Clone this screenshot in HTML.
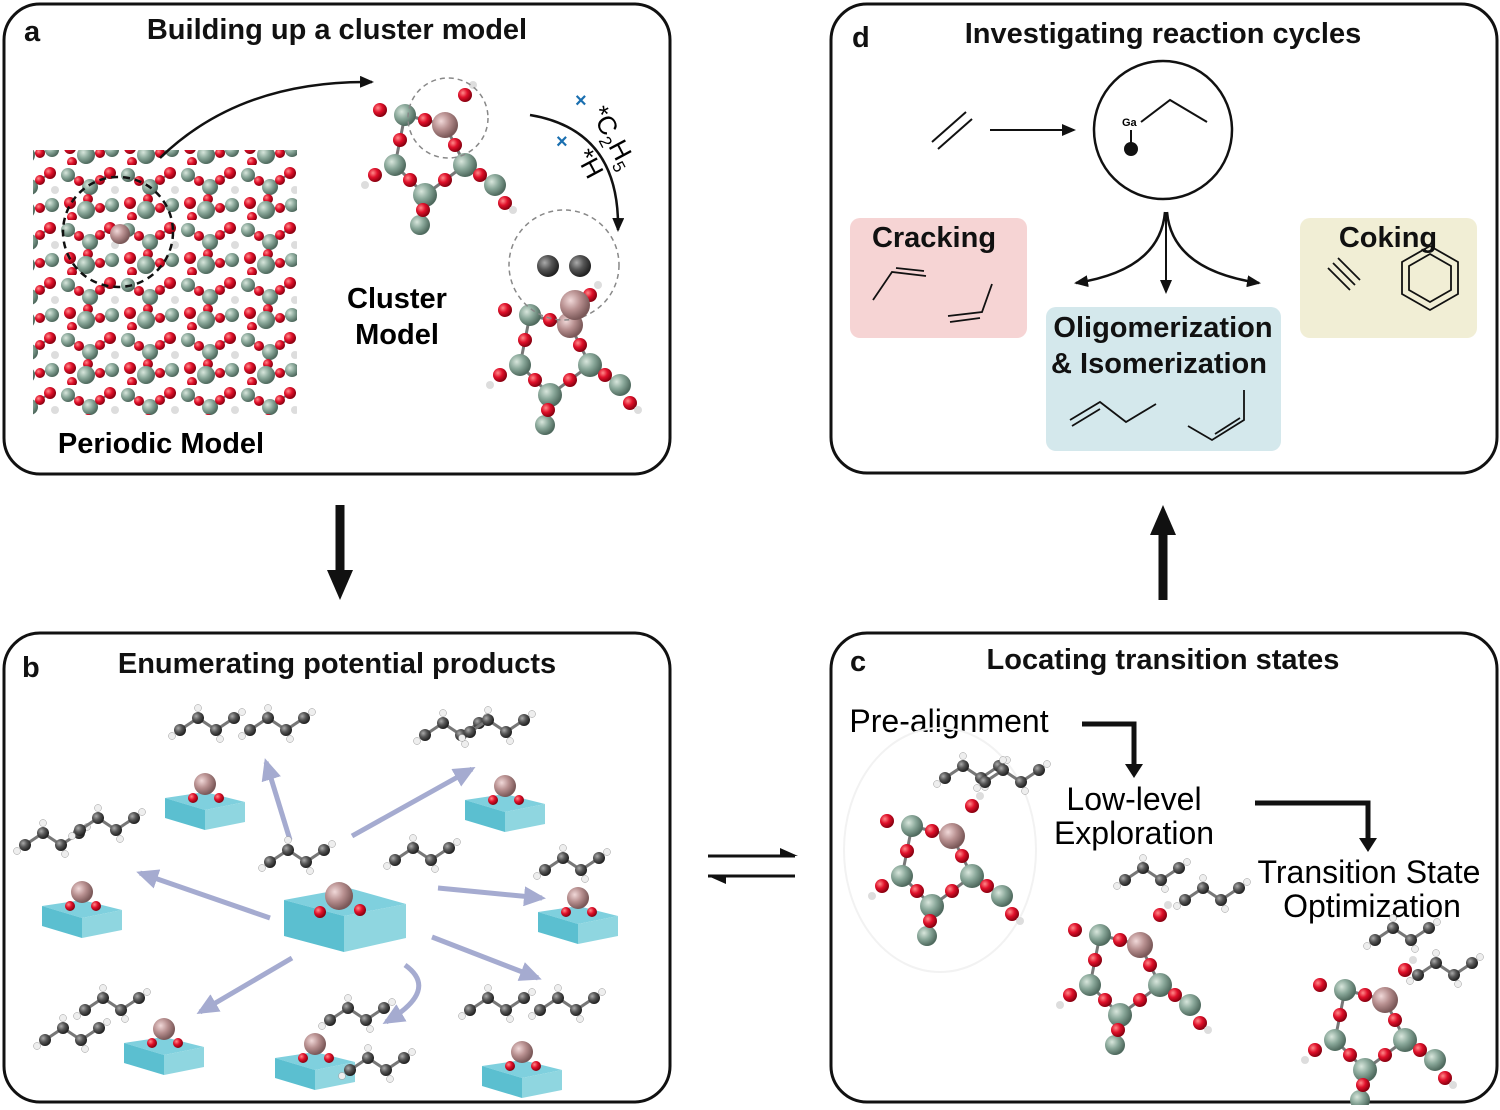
<!DOCTYPE html>
<html><head><meta charset="utf-8"><style>
html,body{margin:0;padding:0;background:#fff;}
body{width:1500px;height:1105px;overflow:hidden;font-family:"Liberation Sans",Arial,sans-serif;}
</style></head><body>
<svg width="1500" height="1105" viewBox="0 0 1500 1105" xmlns="http://www.w3.org/2000/svg" font-family="Liberation Sans, Arial, sans-serif">
<defs>
<radialGradient id="gr" cx="35%" cy="35%" r="65%"><stop offset="0" stop-color="#ff8a8a"/><stop offset="0.5" stop-color="#e0102a"/><stop offset="1" stop-color="#8a0010"/></radialGradient>
<radialGradient id="gg" cx="35%" cy="35%" r="65%"><stop offset="0" stop-color="#d8e6dc"/><stop offset="0.5" stop-color="#8aa89a"/><stop offset="1" stop-color="#4f6a5e"/></radialGradient>
<radialGradient id="gp" cx="35%" cy="35%" r="65%"><stop offset="0" stop-color="#f0d8d8"/><stop offset="0.5" stop-color="#b89090"/><stop offset="1" stop-color="#7a5858"/></radialGradient>
<radialGradient id="gk" cx="35%" cy="35%" r="65%"><stop offset="0" stop-color="#aaa"/><stop offset="0.5" stop-color="#555"/><stop offset="1" stop-color="#222"/></radialGradient>
<pattern id="zeo" width="60" height="55" patternUnits="userSpaceOnUse">
<g stroke="#777" stroke-width="2"><line x1="8" y1="10" x2="30" y2="22"/><line x1="30" y1="22" x2="50" y2="8"/><line x1="30" y1="22" x2="26" y2="45"/><line x1="26" y1="45" x2="52" y2="40"/></g>
<circle cx="8" cy="10" r="7" fill="url(#gg)"/><circle cx="30" cy="22" r="8" fill="url(#gg)"/><circle cx="50" cy="8" r="6" fill="url(#gr)"/>
<circle cx="19" cy="16" r="5" fill="url(#gr)"/><circle cx="40" cy="15" r="5" fill="url(#gr)"/><circle cx="28" cy="34" r="5" fill="url(#gr)"/>
<circle cx="26" cy="45" r="9" fill="url(#gg)"/><circle cx="52" cy="40" r="7" fill="url(#gg)"/><circle cx="40" cy="43" r="5" fill="url(#gr)"/>
<circle cx="10" cy="38" r="6" fill="url(#gr)"/><circle cx="55" cy="25" r="4" fill="#ddd"/><circle cx="12" cy="52" r="5" fill="url(#gr)"/>
</pattern>
<marker id="ah" markerUnits="userSpaceOnUse" markerWidth="14" markerHeight="12" refX="12" refY="6" orient="auto"><path d="M0,0 L14,6 L0,12 z" fill="#111"/></marker>
<marker id="ahb" markerUnits="userSpaceOnUse" markerWidth="22" markerHeight="20" refX="18" refY="10" orient="auto"><path d="M0,0 L22,10 L0,20 z" fill="#a5abd0"/></marker>
<g id="clus">
<g stroke="#777" stroke-width="3"><line x1="0" y1="0" x2="40" y2="10"/><line x1="40" y1="10" x2="60" y2="50"/><line x1="0" y1="0" x2="-10" y2="50"/><line x1="-10" y1="50" x2="20" y2="80"/><line x1="20" y1="80" x2="60" y2="50"/><line x1="60" y1="50" x2="90" y2="70"/><line x1="20" y1="80" x2="15" y2="110"/></g>
<circle cx="0" cy="0" r="11" fill="url(#gg)"/><circle cx="40" cy="10" r="13" fill="url(#gp)"/><circle cx="60" cy="50" r="12" fill="url(#gg)"/>
<circle cx="-10" cy="50" r="11" fill="url(#gg)"/><circle cx="20" cy="80" r="12" fill="url(#gg)"/><circle cx="90" cy="70" r="11" fill="url(#gg)"/><circle cx="15" cy="110" r="10" fill="url(#gg)"/>
<circle cx="20" cy="5" r="7" fill="url(#gr)"/><circle cx="50" cy="30" r="7" fill="url(#gr)"/><circle cx="-5" cy="25" r="7" fill="url(#gr)"/>
<circle cx="5" cy="65" r="7" fill="url(#gr)"/><circle cx="40" cy="65" r="7" fill="url(#gr)"/><circle cx="75" cy="60" r="7" fill="url(#gr)"/>
<circle cx="18" cy="95" r="7" fill="url(#gr)"/><circle cx="100" cy="88" r="7" fill="url(#gr)"/><circle cx="-30" cy="60" r="7" fill="url(#gr)"/>
<circle cx="60" cy="-20" r="7" fill="url(#gr)"/><circle cx="-25" cy="-5" r="7" fill="url(#gr)"/><circle cx="-40" cy="70" r="4" fill="#ddd"/>
<circle cx="108" cy="95" r="4" fill="#ddd"/><circle cx="68" cy="-30" r="4" fill="#ddd"/>
</g>
<g id="box">
<polygon points="0,-12 40,-18 80,-8 40,0" fill="#7fd0de"/>
<polygon points="0,-12 40,0 40,20 0,8" fill="#5bbfd0"/>
<polygon points="40,0 80,-8 80,12 40,20" fill="#8fd6e0"/>
<circle cx="40" cy="-26" r="11" fill="url(#gp)"/><circle cx="28" cy="-12" r="5" fill="url(#gr)"/><circle cx="54" cy="-12" r="5" fill="url(#gr)"/>
</g>
<g id="hc" stroke="#777" stroke-width="3">
<line x1="0" y1="0" x2="18" y2="-12"/><line x1="18" y1="-12" x2="36" y2="0"/><line x1="36" y1="0" x2="54" y2="-12"/>
<circle cx="0" cy="0" r="6" fill="url(#gk)" stroke="none"/><circle cx="18" cy="-12" r="6" fill="url(#gk)" stroke="none"/><circle cx="36" cy="0" r="6" fill="url(#gk)" stroke="none"/><circle cx="54" cy="-12" r="6" fill="url(#gk)" stroke="none"/>
<circle cx="-8" cy="6" r="3.5" fill="#eee" stroke="#999" stroke-width="0.5"/><circle cx="18" cy="-22" r="3.5" fill="#eee" stroke="#999" stroke-width="0.5"/><circle cx="40" cy="9" r="3.5" fill="#eee" stroke="#999" stroke-width="0.5"/><circle cx="62" cy="-18" r="3.5" fill="#eee" stroke="#999" stroke-width="0.5"/>
</g>
</defs>

<g fill="none" stroke="#111" stroke-width="3">
<rect x="4" y="4" width="666" height="470" rx="36"/>
<rect x="831" y="4" width="666" height="469" rx="36"/>
<rect x="4" y="633" width="666" height="469" rx="36"/>
<rect x="831" y="633" width="666" height="469" rx="36"/>
</g>
<g font-weight="bold" font-size="29" fill="#111">
<text x="24" y="41">a</text><text x="852" y="47">d</text><text x="22" y="677">b</text><text x="850" y="671">c</text>
</g>
<g font-weight="bold" font-size="29" fill="#111" text-anchor="middle">
<text x="337" y="39">Building up a cluster model</text>
<text x="1163" y="43">Investigating reaction cycles</text>
<text x="337" y="673">Enumerating potential products</text>
<text x="1163" y="669">Locating transition states</text>
</g>

<!-- panel a -->
<rect x="33" y="150" width="264" height="265" fill="url(#zeo)"/>
<circle cx="118" cy="232" r="55" fill="none" stroke="#111" stroke-width="2.5" stroke-dasharray="7,5"/>
<circle cx="120" cy="234" r="10" fill="url(#gp)"/>
<text x="161" y="453" font-weight="bold" font-size="29" text-anchor="middle">Periodic Model</text>
<text x="397" y="308" font-weight="bold" font-size="29" text-anchor="middle">Cluster</text>
<text x="397" y="344" font-weight="bold" font-size="29" text-anchor="middle">Model</text>
<path d="M160,158 Q240,80 372,82" fill="none" stroke="#111" stroke-width="2.5" marker-end="url(#ah)"/>
<use href="#clus" x="405" y="115"/>
<circle cx="448" cy="118" r="40" fill="none" stroke="#888" stroke-width="1.5" stroke-dasharray="5,4"/>
<path d="M530,115 Q620,130 618,230" fill="none" stroke="#111" stroke-width="2.5" marker-end="url(#ah)"/>
<text x="590" y="112" font-size="26" transform="rotate(62 590 112)">*C<tspan font-size="17" dy="6">2</tspan><tspan dy="-6">H</tspan><tspan font-size="17" dy="6">5</tspan></text>
<text x="575" y="155" font-size="26" transform="rotate(62 575 155)">*H</text>
<text x="575" y="107" font-size="20" fill="#1a6fb0" font-weight="bold">×</text>
<text x="556" y="148" font-size="20" fill="#1a6fb0" font-weight="bold">×</text>
<use href="#clus" x="530" y="315"/>
<circle cx="564" cy="265" r="55" fill="none" stroke="#888" stroke-width="1.5" stroke-dasharray="5,4"/>
<circle cx="548" cy="266" r="11" fill="url(#gk)"/><circle cx="580" cy="266" r="11" fill="url(#gk)"/>
<circle cx="575" cy="305" r="15" fill="url(#gp)"/>

<line x1="340" y1="505" x2="340" y2="575" stroke="#111" stroke-width="9"/>
<polygon points="327,570 353,570 340,600" fill="#111"/>
<line x1="1163" y1="600" x2="1163" y2="530" stroke="#111" stroke-width="9"/>
<polygon points="1150,535 1176,535 1163,505" fill="#111"/>
<line x1="708" y1="856" x2="795" y2="856" stroke="#111" stroke-width="3"/>
<polygon points="780,848 798,856 780,856" fill="#111"/>
<line x1="708" y1="876" x2="795" y2="876" stroke="#111" stroke-width="3"/>
<polygon points="726,884 708,876 726,876" fill="#111"/>

<!-- panel d -->
<line x1="932" y1="142" x2="966" y2="112" stroke="#111" stroke-width="2"/>
<line x1="938" y1="149" x2="972" y2="119" stroke="#111" stroke-width="2"/>
<line x1="990" y1="130" x2="1074" y2="130" stroke="#111" stroke-width="2" marker-end="url(#ah)"/>
<circle cx="1163" cy="130" r="69" fill="none" stroke="#111" stroke-width="2.5"/>
<text x="1122" y="126" font-size="11" font-weight="bold">Ga</text>
<line x1="1131" y1="130" x2="1131" y2="148" stroke="#111" stroke-width="2"/>
<circle cx="1131" cy="149" r="7" fill="#111"/>
<polyline points="1141,122 1170,100 1207,122" fill="none" stroke="#111" stroke-width="2"/>
<path d="M1165,212 Q1160,270 1076,283" fill="none" stroke="#111" stroke-width="2.5" marker-end="url(#ah)"/>
<path d="M1167,212 Q1172,270 1259,283" fill="none" stroke="#111" stroke-width="2.5" marker-end="url(#ah)"/>
<line x1="1166" y1="212" x2="1166" y2="292" stroke="#111" stroke-width="2" marker-end="url(#ah)"/>
<rect x="850" y="218" width="177" height="120" rx="10" fill="#f6d4d4"/>
<rect x="1046" y="307" width="235" height="144" rx="10" fill="#d4e8ec"/>
<rect x="1300" y="218" width="177" height="120" rx="10" fill="#f1eed5"/>
<g font-weight="bold" font-size="29" fill="#111" text-anchor="middle">
<text x="934" y="247">Cracking</text><text x="1388" y="247">Coking</text>
<text x="1163" y="337">Oligomerization</text><text x="1159" y="373">&amp; Isomerization</text>
</g>
<g fill="none" stroke="#111" stroke-width="1.8">
<polyline points="873,300 892,272 926,276"/><line x1="896" y1="268" x2="924" y2="271"/>
<polyline points="948,316 982,312 992,284"/><line x1="950" y1="322" x2="980" y2="318"/>
<polyline points="1070,420 1100,402 1126,422 1156,404"/><line x1="1072" y1="426" x2="1100" y2="409"/>
<polyline points="1188,426 1212,440 1244,420 1244,390"/><line x1="1215" y1="434" x2="1240" y2="418"/>
<line x1="1328" y1="268" x2="1350" y2="290"/><line x1="1333" y1="263" x2="1355" y2="285"/><line x1="1338" y1="258" x2="1360" y2="280"/>
<polygon points="1430,246 1458,262 1458,294 1430,310 1402,294 1402,262"/>
<polygon points="1430,254 1451,266 1451,290 1430,302 1409,290 1409,266"/>
</g>

<!-- panel b -->
<g stroke="#a5abd0" stroke-width="5" fill="none" marker-end="url(#ahb)">
<line x1="290" y1="840" x2="266" y2="762"/>
<line x1="352" y1="836" x2="472" y2="769"/>
<line x1="270" y1="918" x2="140" y2="873"/>
<line x1="438" y1="888" x2="542" y2="898"/>
<line x1="292" y1="958" x2="200" y2="1012"/>
<line x1="432" y1="937" x2="538" y2="978"/>
<path d="M405,965 Q440,990 386,1022"/>
</g>
<g transform="translate(284,920)">
<polygon points="0,-20 65,-32 122,-16 60,-4" fill="#7fd0de"/>
<polygon points="0,-20 60,-4 60,32 0,16" fill="#5bbfd0"/>
<polygon points="60,-4 122,-16 122,18 60,32" fill="#8fd6e0"/>
<circle cx="55" cy="-24" r="14" fill="url(#gp)"/><circle cx="36" cy="-8" r="6" fill="url(#gr)"/><circle cx="76" cy="-10" r="6" fill="url(#gr)"/>
</g>
<use href="#hc" x="270" y="862"/>
<use href="#box" x="165" y="810"/><use href="#box" x="465" y="812"/><use href="#box" x="42" y="918"/>
<use href="#box" x="538" y="924"/><use href="#box" x="124" y="1055"/><use href="#box" x="275" y="1070"/><use href="#box" x="482" y="1078"/>
<use href="#hc" x="180" y="730"/><use href="#hc" x="250" y="730"/><use href="#hc" x="425" y="735"/><use href="#hc" x="470" y="732"/>
<use href="#hc" x="25" y="845"/><use href="#hc" x="80" y="830"/><use href="#hc" x="545" y="870"/><use href="#hc" x="395" y="860"/>
<use href="#hc" x="45" y="1040"/><use href="#hc" x="85" y="1010"/><use href="#hc" x="330" y="1020"/><use href="#hc" x="350" y="1070"/>
<use href="#hc" x="470" y="1010"/><use href="#hc" x="540" y="1010"/>

<!-- panel c -->
<text x="949" y="732" font-size="32" text-anchor="middle">Pre-alignment</text>
<text x="1134" y="810" font-size="32" text-anchor="middle">Low-level</text>
<text x="1134" y="844" font-size="32" text-anchor="middle">Exploration</text>
<text x="1369" y="883" font-size="32" text-anchor="middle">Transition State</text>
<text x="1372" y="917" font-size="32" text-anchor="middle">Optimization</text>
<polyline points="1082,724 1134,724 1134,768" fill="none" stroke="#111" stroke-width="5"/>
<polygon points="1125,764 1143,764 1134,778" fill="#111"/>
<polyline points="1255,803 1368,803 1368,842" fill="none" stroke="#111" stroke-width="5"/>
<polygon points="1359,838 1377,838 1368,852" fill="#111"/>
<ellipse cx="940" cy="850" rx="96" ry="122" fill="none" stroke="#f2f2f2" stroke-width="2"/>
<use href="#clus" x="912" y="826"/>
<use href="#hc" x="945" y="778"/><use href="#hc" x="985" y="782"/>
<use href="#clus" x="1100" y="935"/>
<use href="#hc" x="1125" y="880"/><use href="#hc" x="1185" y="900"/>
<use href="#clus" x="1345" y="990"/>
<use href="#hc" x="1375" y="940"/><use href="#hc" x="1418" y="975"/>
</svg>
</body></html>
